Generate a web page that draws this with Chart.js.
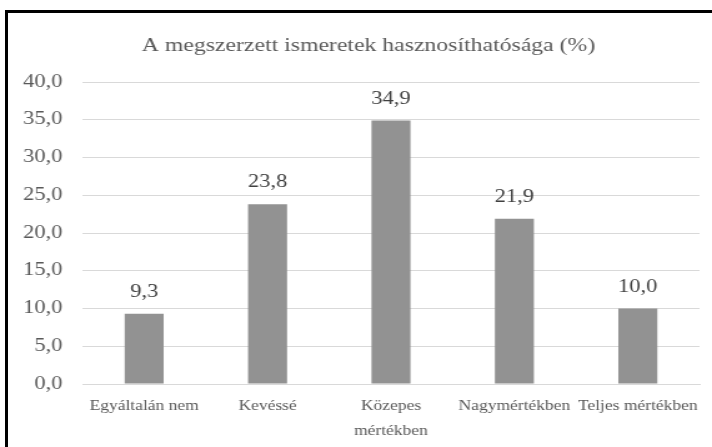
<!DOCTYPE html>
<html>
<head>
<meta charset="utf-8">
<script src="https://cdn.jsdelivr.net/npm/chart.js@4.4.1/dist/chart.umd.min.js"></script>
<style>
    body { margin: 0; background: #fff; overflow: hidden; }
    #wrap { position: absolute; left: 0; top: 0; width: 712px; height: 447px; }
    /* the reference picture is stretched sideways, so the canvas is too */
    #chart { position: absolute; left: 0; top: 0; width: 712px; height: 447px; }
    #frame { position: absolute; left: 5px; top: 10px; width: 720px; height: 450px;
             border-left: 3px solid #000; border-top: 3px solid #000; }
</style>
</head>
<body>
<div id="wrap">
    <canvas id="chart" width="570" height="447" style="width:712px;height:447px"></canvas>
    <div id="frame"></div>
</div>
<script>
// Chart data
const categories = ["Egyáltalán nem", "Kevéssé", ["Közepes", "mértékben"], "Nagymértékben", "Teljes mértékben"];
const values = [9.3, 23.8, 34.9, 21.9, 10.0];
const yTicks = [0, 5, 10, 15, 20, 25, 30, 35, 40];
const chartTitle = "A megszerzett ismeretek hasznosíthatósága (%)";

const serif = "'Liberation Serif', 'Times New Roman', 'DejaVu Serif', serif";
const fmt = v => v.toFixed(1).replace(".", ",");

// Value above each bar
const valueLabels = {
    id: "valueLabels",
    afterDatasetsDraw(chart) {
        const ctx = chart.ctx;
        const meta = chart.getDatasetMeta(0);
        ctx.save();
        ctx.font = "18px " + serif;
        ctx.fillStyle = "#404040";
        ctx.textAlign = "center";
        ctx.textBaseline = "alphabetic";
        meta.data.forEach((bar, i) => {
            ctx.fillText(fmt(values[i]), bar.x, bar.y - 17);
        });
        ctx.restore();
    }
};

// Title drawn by hand, so it sits where the reference has it (not the canvas centre)
const titleText = {
    id: "titleText",
    afterDraw(chart) {
        const ctx = chart.ctx;
        ctx.save();
        ctx.font = "19px " + serif;
        ctx.fillStyle = "#595959";
        ctx.textAlign = "center";
        ctx.textBaseline = "middle";
        ctx.fillText(chartTitle, 295, 46);
        ctx.restore();
    }
};

const ctx = document.getElementById("chart").getContext("2d");
new Chart(ctx, {
    type: "bar",
    data: {
        labels: categories,
        datasets: [{
            data: values,
            backgroundColor: "#929292",
            borderWidth: 0,
            barPercentage: 0.316,
            categoryPercentage: 1
        }]
    },
    options: {
        responsive: false,
        animation: false,
        devicePixelRatio: 1,
        layout: { padding: { left: 0, right: 10, top: 82, bottom: 2 } },
        plugins: {
            legend: { display: false },
            tooltip: { enabled: false },
            title: { display: false }
        },
        scales: {
            x: {
                afterFit(axis) { axis.height = 61; },
                grid: { display: false, drawTicks: false },
                border: { display: true, color: "#d9d9d9" },
                ticks: {
                    color: "#595959",
                    font: { family: serif, size: 14, lineHeight: 1.78 },
                    maxRotation: 0,
                    autoSkip: false,
                    padding: 10
                }
            },
            y: {
                min: 0,
                max: 40,
                afterFit(axis) { axis.width = 66; },
                afterBuildTicks(axis) { axis.ticks = yTicks.map(v => ({ value: v })); },
                grid: { color: "#d9d9d9", drawTicks: false },
                border: { display: false },
                ticks: {
                    color: "#595959",
                    font: { family: serif, size: 18 },
                    padding: 16,
                    callback: v => fmt(v)
                }
            }
        }
    },
    plugins: [valueLabels, titleText]
});
</script>
</body>
</html>
